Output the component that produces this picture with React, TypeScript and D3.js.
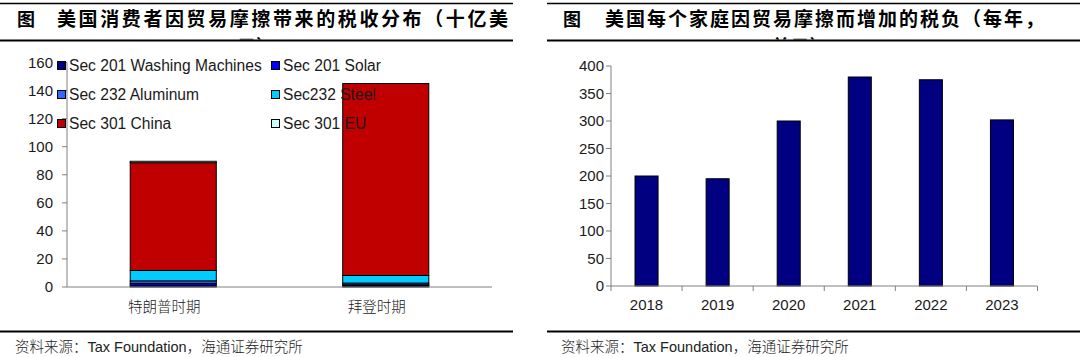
import React from "react";
import * as d3 from "d3";

const leftCategories = ["特朗普时期", "拜登时期"];
const seriesNames = [
  "Sec 201 Washing Machines",
  "Sec 201 Solar",
  "Sec 232 Aluminum",
  "Sec232 Steel",
  "Sec 301 China",
  "Sec 301 EU",
];
const seriesColors = ["#000080", "#0000ff", "#3366ff", "#00ccff", "#c00000", "#ccffff"];
// values per series: [Trump, Biden]
const washingMachines = [1.2, 1.0];
const solar = [1.4, 0.6];
const aluminum = [1.8, 1.2];
const steel = [7.4, 5.4];
const china = [76.8, 136.8];
const eu = [1.0, 0];
const leftTicks = [0, 20, 40, 60, 80, 100, 120, 140, 160];

const years = ["2018", "2019", "2020", "2021", "2022", "2023"];
const householdTax = [200, 195, 300, 380, 375, 302];
const rightTicks = [0, 50, 100, 150, 200, 250, 300, 350, 400];

const leftTitle1 = "美国消费者因贸易摩擦带来的税收分布（十亿美";
const leftTitle2 = "元）";
const rightTitle1 = "美国每个家庭因贸易摩擦而增加的税负（每年，";
const rightTitle2 = "美元）";
const sourceText = ["资料来源：", "Tax Foundation", "，海通证券研究所"];

const CJK = "'Noto Sans CJK SC', 'Noto Sans', sans-serif";
const LAT = "'Liberation Sans', Arial, sans-serif";

export default function App() {
  const seriesValues = [washingMachines, solar, aluminum, steel, china, eu];
  const rows = leftCategories.map((c, i) => {
    const r: any = { cat: c };
    seriesNames.forEach((s, k) => (r[s] = seriesValues[k][i]));
    return r;
  });
  const stacked = d3.stack<any>().keys(seriesNames)(rows);

  const xL = d3.scaleBand<string>().domain(leftCategories).range([67, 492]).paddingInner(0.595).paddingOuter(0.2975);
  const yL = d3.scaleLinear().domain([0, 160]).range([287, 62.5]);

  const xR = d3.scaleBand<string>().domain(years).range([611, 1037.5]).paddingInner(0.676).paddingOuter(0.338);
  const yR = d3.scaleLinear().domain([0, 400]).range([286, 66]);
  const stepR = xR.step();
  const rStart = xR.range()[0];

  const legendRowY = [66, 95, 124];
  const legendColX = [57, 271];

  return (
    <svg width={1080} height={357} style={{ position: "absolute", left: 0, top: 0, background: "#fff" }}>
      <defs>
        <clipPath id="clipTitle">
          <rect x={0} y={0} width={1080} height={39.5} />
        </clipPath>
      </defs>
      <rect x={0} y={0} width={1080} height={357} fill="#fff" />

      {/* LEFT PANEL */}
      <line x1={0} x2={513} y1={3.5} y2={3.5} stroke="#000" strokeWidth={1.3} />
      <text x={17} y={26} fontFamily={CJK} fontWeight={700} fontSize={18} fill="#000">图</text>
      <text x={57} y={26} fontFamily={CJK} fontWeight={700} fontSize={19} letterSpacing={2.6} fill="#000">{leftTitle1}</text>
      <g clipPath="url(#clipTitle)">
        <text x={256} y={54} textAnchor="middle" fontFamily={CJK} fontWeight={700} fontSize={19} fill="#000">{leftTitle2}</text>
      </g>
      <line x1={0} x2={513} y1={40.5} y2={40.5} stroke="#000" strokeWidth={2} />

      {/* left bars */}
      {stacked.map((layer, k) => (
        <g key={k}>
          {layer.map((d, i) => (
            d[1] - d[0] > 0 ? (
              <rect
                key={i}
                x={xL(leftCategories[i])!}
                width={xL.bandwidth()}
                y={yL(d[1])}
                height={yL(d[0]) - yL(d[1])}
                fill={seriesColors[k]}
                stroke="#000"
                strokeWidth={1}
              />
            ) : null
          ))}
        </g>
      ))}

      {/* left axes */}
      <line x1={67} x2={67} y1={yL(0)} y2={yL(160)} stroke="#808080" strokeWidth={1} />
      <line x1={67} x2={492} y1={yL(0)} y2={yL(0)} stroke="#808080" strokeWidth={1} />
      {leftTicks.map((t) => (
        <g key={t}>
          <line x1={62} x2={67} y1={yL(t)} y2={yL(t)} stroke="#808080" strokeWidth={1} />
          <text x={53} y={yL(t)} dy="0.35em" textAnchor="end" fontFamily={LAT} fontSize={15} fill="#1a1a1a">{t}</text>
        </g>
      ))}
      {leftCategories.map((c) => (
        <text key={c} x={xL(c)! + xL.bandwidth() / 2 - 9} y={312} textAnchor="middle" fontFamily={CJK} fontWeight={300} fontSize={14.5} fill="#222">{c}</text>
      ))}

      {/* legend */}
      {seriesNames.map((s, k) => {
        const col = k % 2;
        const row = Math.floor(k / 2);
        const x = legendColX[col];
        const y = legendRowY[row];
        return (
          <g key={s}>
            <rect x={x + 0.5} y={y - 4.5} width={8} height={8} fill={seriesColors[k]} stroke="#000" strokeWidth={1} />
            <text x={x + 12} y={y} dy="0.35em" fontFamily={LAT} fontSize={15.6} fill="#1a1a1a">{s}</text>
          </g>
        );
      })}

      <line x1={0} x2={513} y1={331.5} y2={331.5} stroke="#000" strokeWidth={2} />
      <text x={15} y={352} fontSize={14.5} fill="#222">
        <tspan fontFamily={CJK} fontWeight={300}>{sourceText[0]}</tspan>
        <tspan fontFamily={LAT}>{sourceText[1]}</tspan>
        <tspan fontFamily={CJK} fontWeight={300}>{sourceText[2]}</tspan>
      </text>

      {/* RIGHT PANEL */}
      <line x1={547} x2={1080} y1={3.5} y2={3.5} stroke="#000" strokeWidth={1.3} />
      <text x={563} y={26} fontFamily={CJK} fontWeight={700} fontSize={18} fill="#000">图</text>
      <text x={605} y={26} fontFamily={CJK} fontWeight={700} fontSize={19} letterSpacing={2.0} fill="#000">{rightTitle1}</text>
      <g clipPath="url(#clipTitle)">
        <text x={800} y={54} textAnchor="middle" fontFamily={CJK} fontWeight={700} fontSize={19} fill="#000">{rightTitle2}</text>
      </g>
      <line x1={547} x2={1080} y1={40.5} y2={40.5} stroke="#000" strokeWidth={2} />

      {years.map((yr, i) => (
        <rect
          key={yr}
          x={xR(yr)!}
          width={xR.bandwidth()}
          y={yR(householdTax[i])}
          height={yR(0) - yR(householdTax[i])}
          fill="#000080"
          stroke="#000"
          strokeWidth={1}
        />
      ))}
      <line x1={611} x2={611} y1={yR(0)} y2={yR(400)} stroke="#808080" strokeWidth={1} />
      <line x1={611} x2={1037.5} y1={yR(0)} y2={yR(0)} stroke="#808080" strokeWidth={1} />
      {rightTicks.map((t) => (
        <g key={t}>
          <line x1={606} x2={611} y1={yR(t)} y2={yR(t)} stroke="#808080" strokeWidth={1} />
          <text x={604} y={yR(t)} dy="0.35em" textAnchor="end" fontFamily={LAT} fontSize={15} fill="#1a1a1a">{t}</text>
        </g>
      ))}
      {d3.range(years.length + 1).map((i) => (
        <line key={i} x1={rStart + i * stepR} x2={rStart + i * stepR} y1={yR(0)} y2={yR(0) + 5} stroke="#808080" strokeWidth={1} />
      ))}
      {years.map((yr) => (
        <text key={yr} x={xR(yr)! + xR.bandwidth() / 2} y={310} textAnchor="middle" fontFamily={LAT} fontSize={15} fill="#1a1a1a">{yr}</text>
      ))}

      <line x1={547} x2={1080} y1={331.5} y2={331.5} stroke="#000" strokeWidth={2} />
      <text x={561} y={352} fontSize={14.5} fill="#222">
        <tspan fontFamily={CJK} fontWeight={300}>{sourceText[0]}</tspan>
        <tspan fontFamily={LAT}>{sourceText[1]}</tspan>
        <tspan fontFamily={CJK} fontWeight={300}>{sourceText[2]}</tspan>
      </text>
    </svg>
  );
}
